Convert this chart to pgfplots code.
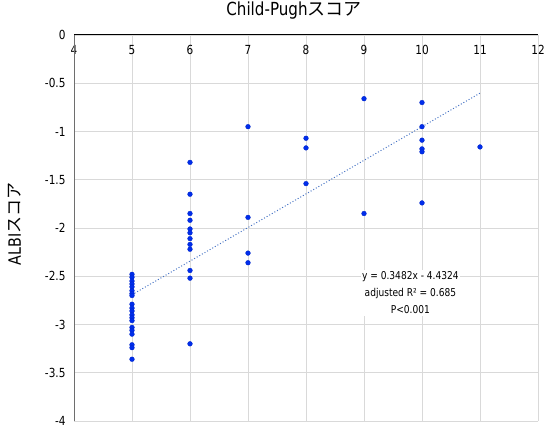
\documentclass[border=0pt]{standalone}
\usepackage{pgfplots}
\pgfplotsset{compat=1.18}
\usepackage{fontspec}
\setmainfont{DejaVu Sans}[FakeStretch=0.84]
\newfontfamily\jp{Noto Sans CJK JP}
\definecolor{gridgray}{RGB}{217,217,217}
\definecolor{axgray}{RGB}{110,110,110}
\definecolor{markblue}{RGB}{0,45,235}
\definecolor{trendblue}{RGB}{68,114,196}
\begin{document}
\begin{tikzpicture}
\begin{axis}[
  scale only axis,
  width=464bp, height=386bp,
  xmin=4, xmax=12, ymin=-4, ymax=0,
  xtick={4,5,6,7,8,9,10,11,12},
  xticklabels={4,5,6,7,8,9,10,11,12},
  ytick={-4,-3.5,-3,-2.5,-2,-1.5,-1,-0.5,0},
  yticklabels={-4,-3.5,-3,-2.5,-2,-1.5,-1,-0.5,0},
  xticklabel pos=upper,
  xticklabel style={anchor=north, font=\fontsize{12.5bp}{14bp}\selectfont, yshift=-7bp},
  yticklabel style={font=\fontsize{12.5bp}{14bp}\selectfont, xshift=-5bp},
  major tick length=0pt,
  axis line style={draw=none},
  grid=major,
  grid style={color=gridgray, line width=0.8bp},
  title={Child-Pugh{\jp スコア}},
  title style={at={(axis description cs:0.5,1)}, anchor=center, yshift=18bp, xshift=-12bp, font=\fontsize{18bp}{20bp}\selectfont},
  ylabel={ALBI{\jp スコア}},
  ylabel style={at={(axis description cs:-0.127,0.51)}, anchor=center, font=\fontsize{17bp}{20bp}\selectfont},
  clip=false,
]
\draw[axgray, line width=1bp] (axis cs:4,-4) -- (axis cs:4,0);
\draw[black, line width=1bp] (axis cs:4,0) -- (axis cs:12,0);
\addplot[trendblue, dotted, line width=1bp] coordinates {(5,-2.6914) (11,-0.6022)};
\addplot[only marks, mark=*, mark size=2.4bp, mark options={fill=markblue, draw=markblue!85!black, line width=0.3bp}] coordinates {
(5,-2.48) (5,-2.51) (5,-2.55) (5,-2.58) (5,-2.61) (5,-2.65) (5,-2.68) (5,-2.70)
(5,-2.79) (5,-2.83) (5,-2.86) (5,-2.90) (5,-2.93) (5,-2.96)
(5,-3.03) (5,-3.06) (5,-3.10) (5,-3.21) (5,-3.24) (5,-3.36)
(6,-1.32) (6,-1.65) (6,-1.85) (6,-1.92) (6,-2.01) (6,-2.05) (6,-2.11) (6,-2.17) (6,-2.22) (6,-2.44) (6,-2.52) (6,-3.20)
(7,-0.95) (7,-1.89) (7,-2.26) (7,-2.36)
(8,-1.07) (8,-1.17) (8,-1.54)
(9,-0.66) (9,-1.85)
(10,-0.70) (10,-0.95) (10,-1.09) (10,-1.18) (10,-1.21) (10,-1.74)
(11,-1.16)
};
\node[align=center, fill=white, inner sep=1.5bp, font=\fontsize{10.8bp}{17bp}\selectfont] at (axis cs:9.8,-2.674) {y = 0.3482x - 4.4324\\adjusted R² = 0.685\\P<0.001};
\end{axis}
\pgfresetboundingbox
\path[use as bounding box] ([shift={(-74bp,-4bp)}]current axis.south west) rectangle ([shift={(7bp,35bp)}]current axis.north east);
\end{tikzpicture}
\end{document}
